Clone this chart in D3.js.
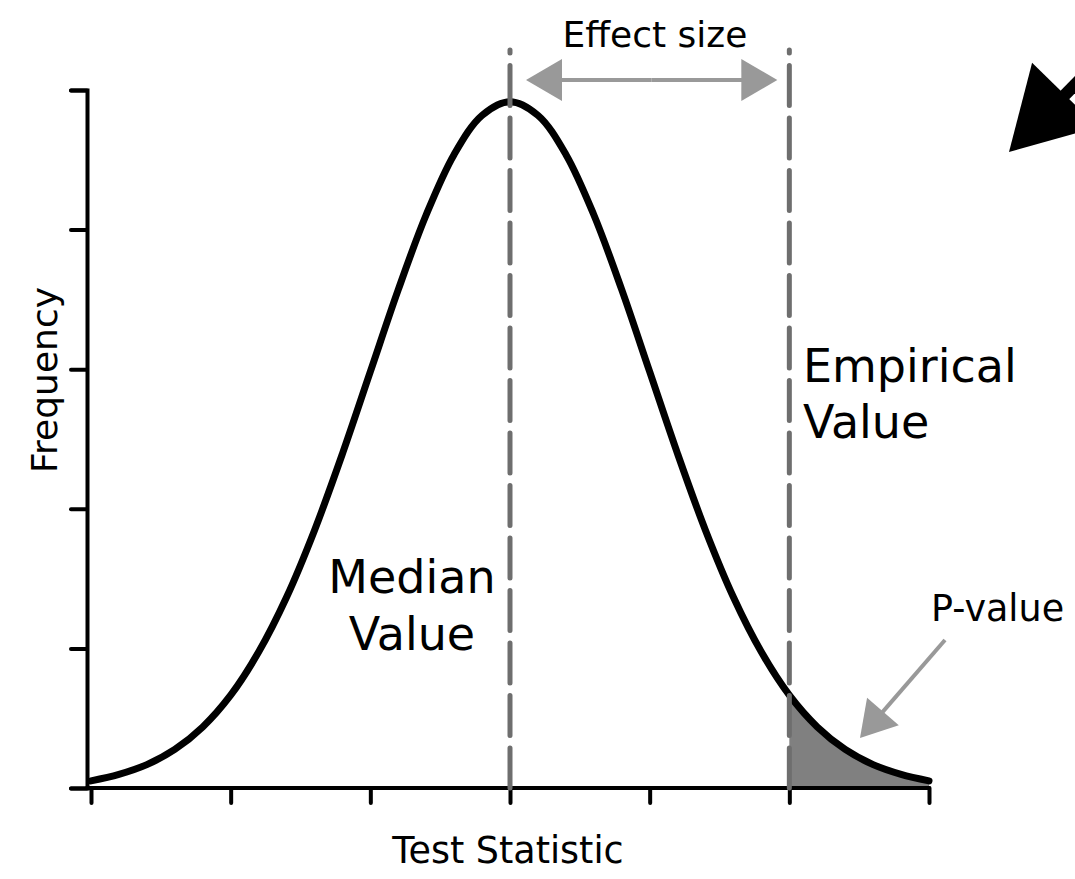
<!DOCTYPE html>
<html>
<head>
<meta charset="utf-8">
<script src="https://cdn.jsdelivr.net/npm/d3@7"></script>
<style>
  html, body { margin: 0; padding: 0; background: #fff; }
  svg { display: block; font-family: "DejaVu Sans", sans-serif; }
</style>
</head>
<body>
<svg id="chart" width="1075" height="879"></svg>
<script>
// ---- data ----
const testStat = [-3.0,-2.8,-2.6,-2.4,-2.2,-2.0,-1.8,-1.6,-1.4,-1.2,-1.0,-0.8,-0.6,-0.4,-0.2,0.0,
                  0.2,0.4,0.6,0.8,1.0,1.2,1.4,1.6,1.8,2.0,2.2,2.4,2.6,2.8,3.0];
const frequency = [0.0041,0.0078,0.0134,0.0221,0.0350,0.0532,0.0779,0.1093,0.1476,0.1915,0.2386,0.2856,0.3285,0.3631,0.3855,0.3933,
                   0.3855,0.3631,0.3285,0.2856,0.2386,0.1915,0.1476,0.1093,0.0779,0.0532,0.0350,0.0221,0.0134,0.0078,0.0041];
const xTicks = [-3,-2,-1,0,1,2,3];
const yTicks = [0,0.08,0.16,0.24,0.32,0.40];
const medianValue = 0;
const empiricalValue = 2;
const labels = {
  x: "Test Statistic", y: "Frequency", effect: "Effect size",
  median: ["Median","Value"], empirical: ["Empirical","Value"], p: "P-value"
};

// ---- layout ----
const svg = d3.select("#chart");
const x = d3.scaleLinear().domain([-3,3]).range([91,929]);
const y = d3.scaleLinear().domain([0,0.4]).range([788,90]);
const yAxisX = 87;
const pts = testStat.map((t,i)=>({t, f: frequency[i]}));
const curve = d3.curveCatmullRom.alpha(0.5);

// shaded p-value area
const area = d3.area().x(d=>x(d.t)).y0(y(0)).y1(d=>y(d.f)).curve(curve);
svg.append("path")
  .datum(pts.filter(d=>d.t>=empiricalValue))
  .attr("d", area).attr("fill", "#808080");

// curve
const line = d3.line().x(d=>x(d.t)).y(d=>y(d.f)).curve(curve);
svg.append("path").datum(pts).attr("d", line)
  .attr("fill","none").attr("stroke","#000").attr("stroke-width",7)
  .attr("stroke-linejoin","round").attr("stroke-linecap","round");

// y axis
const gy = svg.append("g").attr("transform",`translate(${yAxisX},0)`)
  .call(d3.axisLeft(y).tickValues(yTicks).tickSize(16).tickFormat(""));
gy.selectAll("path, line").attr("stroke","#000").attr("stroke-width",4)
  .attr("stroke-linecap","round");

// x axis
const gx = svg.append("g").attr("transform",`translate(0,${y(0)})`)
  .call(d3.axisBottom(x).tickValues(xTicks).tickSize(15).tickSizeOuter(0).tickFormat(""));
gx.select(".domain").remove();
gx.selectAll("line").attr("stroke","#000").attr("stroke-width",4).attr("stroke-linecap","round");
svg.append("line").attr("x1", yAxisX).attr("x2", x(3)).attr("y1", y(0)).attr("y2", y(0))
  .attr("stroke","#000").attr("stroke-width",4).attr("stroke-linecap","round");

// dashed vertical lines
[medianValue, empiricalValue].forEach(v=>{
  svg.append("line").attr("x1",x(v)).attr("x2",x(v)).attr("y1",y(0)).attr("y2",50)
    .attr("stroke","#6e6e6e").attr("stroke-width",5)
    .attr("stroke-dasharray","40,12.5").attr("stroke-linecap","round");
});

// arrow helper
function arrow(x1,y1,x2,y2,color,w,headLen,headHalf){
  const dx=x2-x1, dy=y2-y1, L=Math.hypot(dx,dy), ux=dx/L, uy=dy/L;
  const bx=x2-ux*headLen, by=y2-uy*headLen;
  svg.append("line").attr("x1",x1).attr("y1",y1).attr("x2",bx+ux*2).attr("y2",by+uy*2)
    .attr("stroke",color).attr("stroke-width",w);
  svg.append("path")
    .attr("d",`M${x2},${y2}L${bx-uy*headHalf},${by+ux*headHalf}L${bx+uy*headHalf},${by-ux*headHalf}Z`)
    .attr("fill",color);
}

// effect size double arrow
const ay = 80;
const ax1 = x(medianValue)+16, ax2 = x(empiricalValue)-12;
const mid = (ax1+ax2)/2;
arrow(mid, ay, ax1, ay, "#999999", 4, 36, 21);
arrow(mid, ay, ax2, ay, "#999999", 4, 36, 21);

// p-value arrow
arrow(945, 640, 860, 738, "#999999", 4, 35, 21);

// big black arrow (partially off-canvas)
arrow(1150, 8, 1009, 152, "#000", 12, 80, 46);

// texts
svg.append("text").attr("x",655).attr("y",47).attr("text-anchor","middle")
  .attr("font-size",36).text(labels.effect);
svg.append("text").attr("x",508).attr("y",863).attr("text-anchor","middle")
  .attr("font-size",36.5).text(labels.x);
svg.append("text").attr("transform","translate(57,380) rotate(-90)").attr("text-anchor","middle")
  .attr("font-size",36).text(labels.y);
svg.append("text").attr("x",931).attr("y",621).attr("font-size",36.5).text(labels.p);
const tm = svg.append("text").attr("text-anchor","middle").attr("font-size",46);
tm.append("tspan").attr("x",412).attr("y",593).text(labels.median[0]);
tm.append("tspan").attr("x",412).attr("y",650).text(labels.median[1]);
const te = svg.append("text").attr("font-size",46);
te.append("tspan").attr("x",803).attr("y",382).text(labels.empirical[0]);
te.append("tspan").attr("x",803).attr("y",438).text(labels.empirical[1]);
</script>
</body>
</html>
